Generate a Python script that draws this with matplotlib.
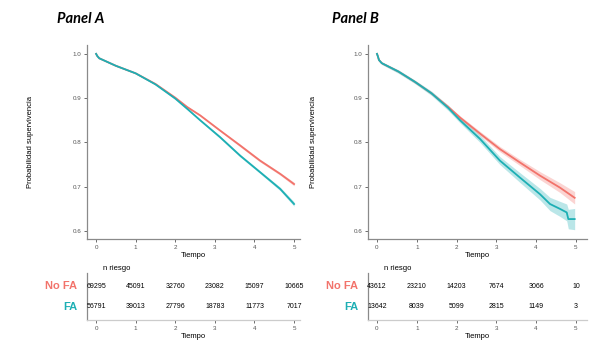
import numpy as np
import matplotlib
matplotlib.use('Agg')
import matplotlib.pyplot as plt

plt.rcParams['font.family'] = ['Liberation Sans', 'DejaVu Sans']

RED = '#F2736B'
TEAL = '#1DAFB4'
SPINE = '#8a8a8a'

# ---- Panel A: survival curves ----
a_time_nofa = [0, 0.03, 0.08, 0.5, 1.0, 1.5, 2.0, 2.3, 2.63, 3.13, 3.64, 4.14, 4.65, 5.0]
a_surv_nofa = [1.0, 0.995, 0.990, 0.973, 0.956, 0.932, 0.901, 0.880, 0.861, 0.827, 0.793, 0.759, 0.729, 0.706]
a_ci_nofa = [0, 0.001, 0.001, 0.001, 0.001, 0.001, 0.002, 0.002, 0.002, 0.002, 0.003, 0.003, 0.003, 0.004]
a_time_fa = [0, 0.03, 0.08, 0.5, 1.0, 1.5, 2.0, 2.3, 2.63, 3.13, 3.64, 4.14, 4.65, 5.0]
a_surv_fa = [1.0, 0.995, 0.990, 0.973, 0.956, 0.931, 0.899, 0.876, 0.850, 0.812, 0.770, 0.733, 0.695, 0.661]
a_ci_fa = [0, 0.001, 0.001, 0.001, 0.001, 0.001, 0.002, 0.002, 0.002, 0.003, 0.003, 0.003, 0.004, 0.005]

# ---- Panel B ----
b_time_nofa = [0, 0.02, 0.05, 0.12, 0.54, 0.95, 1.37, 1.79, 2.09, 2.59, 3.09, 3.59, 4.10, 4.60, 4.97]
b_surv_nofa = [1.0, 0.995, 0.986, 0.979, 0.960, 0.937, 0.911, 0.880, 0.856, 0.820, 0.785, 0.755, 0.725, 0.698, 0.675]
b_ci_nofa = [0, 0.001, 0.002, 0.002, 0.002, 0.003, 0.003, 0.004, 0.004, 0.005, 0.006, 0.007, 0.009, 0.011, 0.014]
b_time_fa = [0, 0.02, 0.05, 0.12, 0.54, 0.95, 1.37, 1.79, 2.09, 2.59, 3.09, 3.59, 4.10, 4.35, 4.60, 4.77, 4.81, 4.97]
b_surv_fa = [1.0, 0.995, 0.986, 0.979, 0.960, 0.937, 0.911, 0.878, 0.850, 0.808, 0.759, 0.721, 0.683, 0.661, 0.650, 0.642, 0.627, 0.627]
b_ci_fa = [0, 0.002, 0.003, 0.003, 0.004, 0.004, 0.005, 0.006, 0.006, 0.008, 0.009, 0.011, 0.013, 0.015, 0.017, 0.019, 0.022, 0.024]

# ---- numbers at risk ----
risk_times = [0, 1, 2, 3, 4, 5]
a_risk_nofa = [69295, 45091, 32760, 23082, 15097, 10665]
a_risk_fa = [56791, 39013, 27796, 18783, 11773, 7017]
b_risk_nofa = [43612, 23210, 14203, 7674, 3066, 10]
b_risk_fa = [13642, 8039, 5099, 2815, 1149, 3]

y_ticks = [0.6, 0.7, 0.8, 0.9, 1.0]


def style_axis(ax):
    for s in ['top', 'right']:
        ax.spines[s].set_visible(False)
    for s in ['left', 'bottom']:
        ax.spines[s].set_color(SPINE)
        ax.spines[s].set_linewidth(0.9)
    ax.tick_params(colors='#555555', labelsize=4.5, length=2, width=0.6, pad=2)


def draw_main(ax, groups, xlim, ylab_x):
    for t, s, ci, c in groups:
        t = np.array(t); s = np.array(s); ci = np.array(ci)
        ax.fill_between(t, s - ci, s + ci, color=c, alpha=0.3, lw=0)
        ax.plot(t, s, color=c, lw=1.3)
    ax.set_xlim(*xlim)
    ax.set_ylim(0.582, 1.02)
    ax.set_xticks(risk_times)
    ax.set_yticks(y_ticks)
    ax.set_yticklabels([f'{v:.1f}' for v in y_ticks])
    style_axis(ax)
    ax.set_xlabel('Tiempo', fontsize=5.5, labelpad=2)
    ax.set_ylabel('Probabilidad supervivencia', fontsize=5.5)
    ax.yaxis.set_label_coords(ylab_x, 0.5)


def draw_table(ax, nofa, fa, xlim, lab_x):
    ax.set_xlim(*xlim)
    ax.set_ylim(0, 1)
    for x, n1, n2 in zip(risk_times, nofa, fa):
        ax.text(x, 0.72, str(n1), ha='center', va='center', fontsize=5)
        ax.text(x, 0.28, str(n2), ha='center', va='center', fontsize=5)
    ax.set_xticks(risk_times)
    ax.set_yticks([])
    style_axis(ax)
    ax.spines['bottom'].set_color('#cccccc')
    ax.set_xlabel('Tiempo', fontsize=5.5, labelpad=2)
    ax.text(0.075, 1.03, 'n riesgo', transform=ax.transAxes, ha='left', va='bottom', fontsize=5.5)
    ax.text(lab_x, 0.72, 'No FA', transform=ax.transAxes, ha='right', va='center',
            fontsize=8, fontweight='bold', color=RED)
    ax.text(lab_x, 0.28, 'FA', transform=ax.transAxes, ha='right', va='center',
            fontsize=8, fontweight='bold', color=TEAL)


fig = plt.figure(figsize=(6, 3.44), dpi=100)

ax_a = fig.add_axes([87/600, 1 - 239/344, 213/600, 194/344])
draw_main(ax_a, [(a_time_nofa, a_surv_nofa, a_ci_nofa, RED),
                 (a_time_fa, a_surv_fa, a_ci_fa, TEAL)], (-0.23, 5.15), -0.25)
tab_a = fig.add_axes([87/600, 1 - 320/344, 213/600, 47/344])
draw_table(tab_a, a_risk_nofa, a_risk_fa, (-0.23, 5.15), -0.045)

ax_b = fig.add_axes([368/600, 1 - 239/344, 219/600, 194/344])
draw_main(ax_b, [(b_time_nofa, b_surv_nofa, b_ci_nofa, RED),
                 (b_time_fa, b_surv_fa, b_ci_fa, TEAL)], (-0.226, 5.28), -0.235)
tab_b = fig.add_axes([368/600, 1 - 320/344, 219/600, 47/344])
draw_table(tab_b, b_risk_nofa, b_risk_fa, (-0.226, 5.28), -0.046)

fig.text(57/600, 1 - 19/344, 'Panel A', fontsize=10.5, fontweight='bold', style='italic',
         family=['Lato', 'DejaVu Sans'], va='center', ha='left')
fig.text(332/600, 1 - 19/344, 'Panel B', fontsize=10.5, fontweight='bold', style='italic',
         family=['Lato', 'DejaVu Sans'], va='center', ha='left')

fig.savefig('out.png', dpi=100)
